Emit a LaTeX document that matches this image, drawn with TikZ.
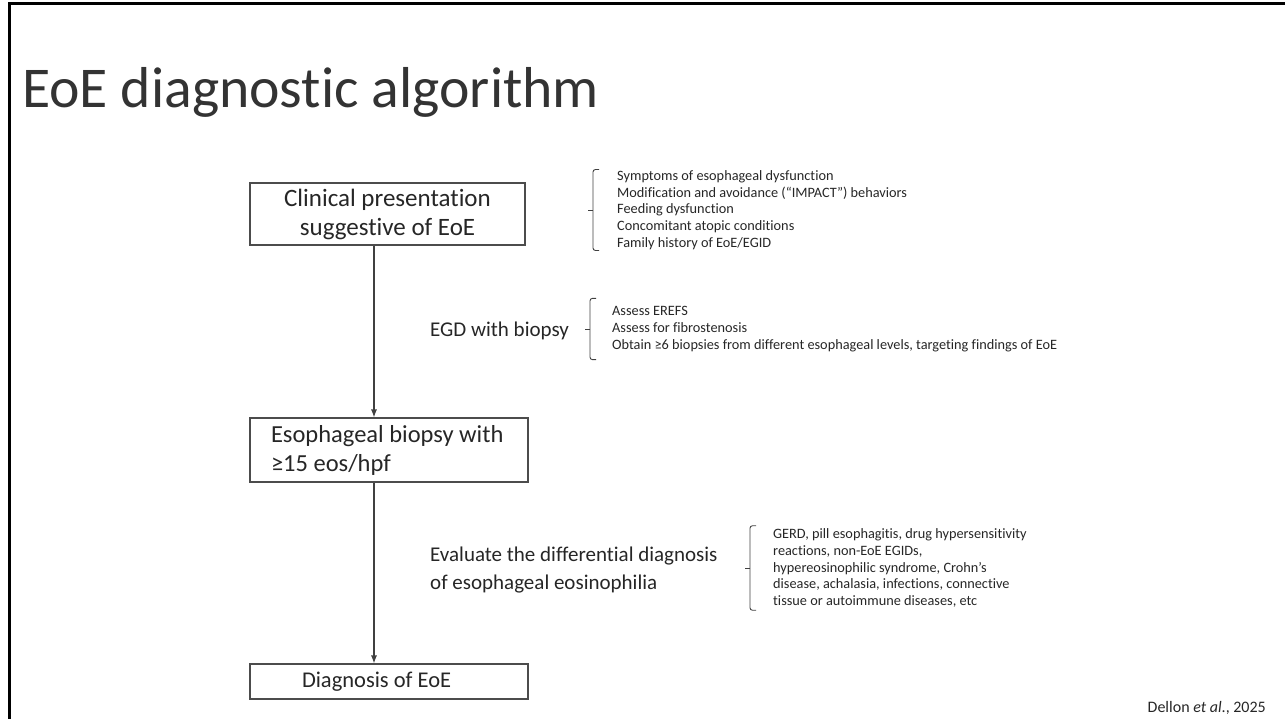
\documentclass[tikz,border=0pt]{standalone}
\usepackage{fontspec}
\setmainfont{Carlito}[Ligatures=NoCommon]
\usepackage{tikz}
\usetikzlibrary{arrows.meta,calc}

\begin{document}
\begin{tikzpicture}[x=1pt,y=-1pt,
    box/.style={draw=black!70, line width=1.1pt, inner ysep=0pt, text=black!85},
    flow/.style={draw=black!75, line width=1.1pt, -{Latex[length=8pt,width=6pt]}},
    brace/.style={draw=black!75, line width=0.9pt, rounded corners=2.5pt},
    midlabel/.style={anchor=west, align=flush left, inner sep=0pt, text=black!85, font=\fontsize{21}{28}\selectfont},
    list/.style={anchor=west, align=flush left, inner xsep=0pt, text=black!85, font=\fontsize{14.3}{16.6}\selectfont}]
    \useasboundingbox (0,0) rectangle (1285,719);
    \draw[line width=3pt] (9,719) -- (9,4) -- (1285,4);
    \node[anchor=base west, inner sep=0pt, text=black!80, font=\fontsize{57.7}{60}\selectfont] (title) at (22,108) {EoE diagnostic algorithm};

    % flow boxes
    \node[box, minimum width=275, minimum height=62, align=center, font=\fontsize{25}{29}\selectfont] (clin) at (387.5,214) {Clinical presentation\\suggestive of EoE};
    \node[box, minimum height=64, text width=236, inner xsep=21, align=flush left, font=\fontsize{24.5}{29}\selectfont] (biop) at (389,450) {Esophageal biopsy with\\≥15 eos/hpf};
    \node[box, minimum height=35, text width=174, inner xsep=52, align=flush left, font=\fontsize{22.5}{27}\selectfont] (diag) at (389,681.5) {Diagnosis of EoE};
    \coordinate (spine) at (374,0);
    \draw[flow] (clin.south -| spine) -- (biop.north -| spine);
    \draw[flow] (biop.south -| spine) -- (diag.north -| spine);

    % steps between boxes
    \node[midlabel] (egd) at (430,331) {EGD with biopsy};
    \node[midlabel] (ddx) at (430,570) {Evaluate the differential diagnosis\\of esophageal eosinophilia};

    % lists with braces
    \node[list, inner ysep=1pt] (sym) at (617,210) {Symptoms of esophageal dysfunction\\Modification and avoidance (“IMPACT”) behaviors\\Feeding dysfunction\\Concomitant atopic conditions\\Family history of EoE/EGID};
    \node[list, inner ysep=8pt] (egdlist) at (612,329) {Assess EREFS\\Assess for fibrostenosis\\Obtain ≥6 biopsies from different esophageal levels, targeting findings of EoE};
    \node[list, inner ysep=3pt] (ddxlist) at (773,568) {GERD, pill esophagitis, drug hypersensitivity\\reactions, non-EoE EGIDs,\\hypereosinophilic syndrome, Crohn’s\\disease, achalasia, infections, connective\\tissue or autoimmune diseases, etc};
    \draw[brace] ($(sym.north west)+(-18,0)$) -- ++(-6,0) -- ($(sym.south west)+(-24,0)$) -- ++(6,0);
    \draw[brace] ($(sym.west)+(-24,0)$) -- ++(-5,0);
    \draw[brace] ($(egdlist.north west)+(-16,0)$) -- ++(-6,0) -- ($(egdlist.south west)+(-22,0)$) -- ++(6,0);
    \draw[brace] ($(egdlist.west)+(-22,0)$) -- ++(-5,0);
    \draw[brace] ($(ddxlist.north west)+(-17,0)$) -- ++(-6,0) -- ($(ddxlist.south west)+(-23,0)$) -- ++(6,0);
    \draw[brace] ($(ddxlist.west)+(-23,0)$) -- ++(-5,0);

    \node[anchor=base east, inner sep=0pt, text=black!85, font=\fontsize{16}{18}\selectfont] (credit) at (1266,712) {Dellon \textit{et al}., 2025};
\end{tikzpicture}
\end{document}
